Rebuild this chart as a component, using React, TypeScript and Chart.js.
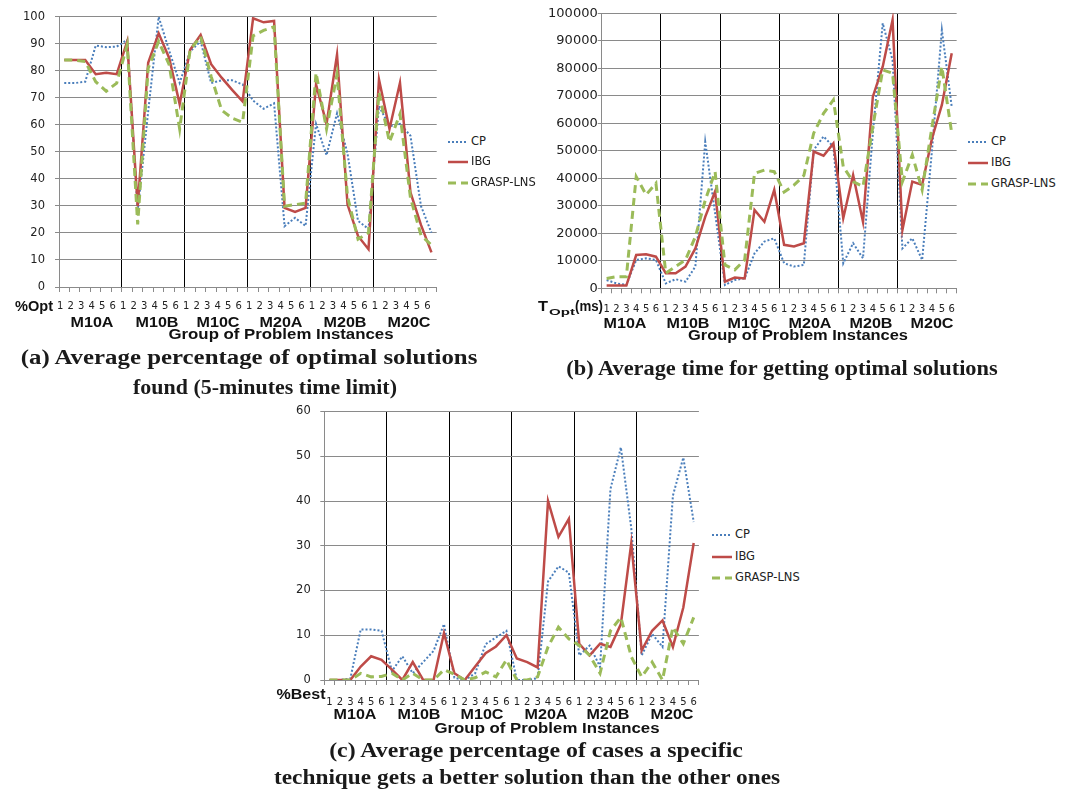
import React, { useEffect, useRef } from 'react';
import { Chart, registerables } from 'chart.js';

Chart.register(...registerables);

// ---------- data ----------
const groups = ['M10A', 'M10B', 'M10C', 'M20A', 'M20B', 'M20C'];
const instances = ['1', '2', '3', '4', '5', '6'];
const seriesNames = ['CP', 'IBG', 'GRASP-LNS'];

// (a) Average percentage of optimal solutions found (%)
const optCP = [75.5, 75.5, 76, 89.4, 88.8, 89, 91.5, 28, 65, 100, 87.5, 75.6, 87.2, 91, 75.5, 76.5, 76.5, 75, 69, 66, 68, 22.5, 25.6, 22.6, 60.4, 48.8, 64.3, 49.4, 24.5, 21.5, 67, 59.5, 60.4, 56, 30, 20.1];
const optIBG = [84, 84, 84, 78.8, 79.3, 78.8, 90.9, 29.9, 83, 93.9, 84.8, 67.7, 87.8, 93.3, 82.5, 77.5, 73, 68.7, 99.5, 98, 98.5, 29.3, 27.8, 29.3, 75, 60.4, 86, 30.5, 18.9, 14, 76.8, 58.5, 75.6, 35, 23, 12.8];
const optGRASP = [84, 84, 83.5, 76, 72.5, 75.5, 89.6, 23.2, 81, 90.9, 82.3, 58.5, 87.8, 92.7, 78, 65.5, 62.5, 61, 93, 95, 96.3, 29.9, 30.5, 31, 79.3, 58.5, 78.7, 33.5, 17.7, 20.1, 72, 53.7, 64, 33, 19.2, 15.5];

// (b) Average time for getting optimal solutions (ms)
const timeCP = [3000, 1800, 1200, 10300, 10900, 10300, 1800, 3300, 2400, 7900, 53300, 27300, 1200, 3000, 3600, 12700, 17000, 18200, 9100, 7900, 8500, 50300, 55200, 51500, 9100, 16400, 10900, 56400, 96400, 83000, 14500, 18200, 10300, 50300, 93900, 66000];
const timeIBG = [1000, 1000, 1000, 12100, 12400, 11500, 5500, 5500, 7900, 14500, 26000, 35200, 2400, 3900, 3600, 28500, 24200, 35800, 15800, 15200, 16400, 49700, 48200, 52700, 25500, 41200, 24200, 69700, 80600, 97600, 21200, 38800, 37600, 54500, 66700, 85500];
const timeGRASP = [3600, 4200, 4200, 40600, 34000, 38200, 5500, 7900, 10300, 18800, 32000, 42400, 8500, 6700, 10300, 41800, 43000, 42400, 35000, 37500, 41000, 56400, 63600, 68500, 44200, 38800, 37000, 58800, 79400, 78200, 38800, 48500, 35800, 58800, 80600, 56400];

// (c) Average percentage of cases a technique gets a better solution (%)
const bestCP = [0, 0, 0.3, 11.3, 11.3, 11, 2, 5.3, 1.5, 4, 6.5, 12.5, 0.5, 0, 1.5, 8, 9.5, 11, 0, 0, 0.4, 22, 25.4, 24, 5.5, 7.7, 2.9, 42.7, 52, 33.9, 5.5, 10.3, 7.4, 41.2, 49.7, 35.3];
const bestIBG = [0, 0, 0, 3, 5.3, 4.5, 2.3, 0, 4, 0, 0, 10.5, 1.5, 0, 3, 6, 7.5, 10, 4.8, 4, 2.8, 40, 32, 36, 8.1, 5.5, 8.1, 7.4, 12.5, 30.6, 6.6, 11, 13.3, 7.4, 16.2, 30.6];
const bestGRASP = [0, 0, 0, 1.5, 0.7, 0.8, 1.5, 0, 1.5, 0, 0, 2.3, 1.3, 0, 0.5, 1.8, 0.7, 4.5, 0, 0, 0.7, 7.4, 11.8, 9.2, 7.7, 5.5, 1.5, 11, 14, 5.2, 0.7, 4, 0, 11.8, 8.1, 14];

const categories = groups.flatMap((g) => instances.map((n) => `${g} ${n}`));

// ---------- styles ----------
const GRID = '#8a8a8a';
const CP_COLOR = '#4a7ebb';
const IBG_COLOR = '#be4b48';
const GRASP_COLOR = '#9bbb59';
const SANS = "'Liberation Sans', Arial, sans-serif";
const SERIF = "'Liberation Serif', 'Times New Roman', serif";
const DV = "'DejaVu Sans', sans-serif";

type Spec = {
  cp: number[]; ibg: number[]; grasp: number[];
  yMax: number; yStep: number;
  padTop: number; padRight: number; yWidth: number; xHeight: number;
  xPad: number; labelOffset: number; yPad: number; yFont: number;
};

function buildConfig(o: Spec): any {
  const n = categories.length;
  return {
    type: 'line',
    data: {
      labels: categories,
      datasets: [
        { label: seriesNames[0], data: o.cp, borderColor: CP_COLOR, borderWidth: 2, borderDash: [2, 2], pointRadius: 0, fill: false, tension: 0, order: 3 },
        { label: seriesNames[1], data: o.ibg, borderColor: IBG_COLOR, borderWidth: 2.5, pointRadius: 0, fill: false, tension: 0, order: 2 },
        { label: seriesNames[2], data: o.grasp, borderColor: GRASP_COLOR, borderWidth: 3, borderDash: [8, 5], pointRadius: 0, fill: false, tension: 0, order: 1 },
      ],
    },
    options: {
      responsive: false,
      animation: false,
      devicePixelRatio: 1,
      events: [],
      layout: { padding: { top: o.padTop, right: o.padRight, left: 0, bottom: 0 } },
      plugins: { legend: { display: false }, tooltip: { enabled: false }, title: { display: false } },
      scales: {
        x: {
          type: 'category',
          offset: true,
          grid: {
            offset: true,
            color: (c: any) => (c.index === n ? GRID : c.index > 0 && c.index % 6 === 0 ? '#000' : 'rgba(0,0,0,0)'),
            lineWidth: 1,
            drawTicks: true,
            tickLength: 5,
            tickColor: GRID,
          },
          border: { display: true, color: GRID, width: 1 },
          ticks: {
            autoSkip: false,
            maxRotation: 0,
            minRotation: 0,
            padding: o.xPad,
            labelOffset: o.labelOffset,
            font: { family: DV, size: 10 },
            color: '#222',
            callback: (_v: any, i: number) => instances[i % instances.length],
          },
          afterFit: (s: any) => { s.height = o.xHeight; },
        },
        y: {
          min: 0,
          max: o.yMax,
          ticks: {
            stepSize: o.yStep,
            padding: o.yPad,
            font: { family: DV, size: o.yFont },
            color: '#222',
            callback: (v: any) => String(v),
          },
          grid: { color: GRID, lineWidth: 1, drawTicks: true, tickLength: 4, tickColor: GRID },
          border: { display: true, color: GRID, width: 1 },
          afterFit: (s: any) => { s.width = o.yWidth; },
        },
      },
    },
  };
}

function LineChart({ left, top, width, height, spec }: { left: number; top: number; width: number; height: number; spec: Spec }) {
  const ref = useRef<HTMLCanvasElement | null>(null);
  useEffect(() => {
    if (!ref.current) return;
    const chart = new Chart(ref.current, buildConfig(spec));
    return () => chart.destroy();
  }, []);
  return <canvas ref={ref} width={width} height={height} style={{ position: 'absolute', left, top, width, height }} />;
}

// ---------- text helpers ----------
let measureCtx: CanvasRenderingContext2D | null = null;
function measure(text: string, font: string): number {
  if (!measureCtx) measureCtx = document.createElement('canvas').getContext('2d');
  if (!measureCtx) return 0;
  measureCtx.font = font;
  return measureCtx.measureText(text).width;
}

function Txt({ text, x, y, w, size, bold = true, family = SANS, color = '#111' }: { text: string; x: number; y: number; w?: number; size: number; bold?: boolean; family?: string; color?: string }) {
  let sx = 1;
  if (w) {
    const m = measure(text, `${bold ? 'bold ' : ''}${size}px ${family}`);
    if (m > 0) sx = w / m;
  }
  return (
    <div
      style={{
        position: 'absolute', left: x, top: y, fontFamily: family, fontSize: size,
        fontWeight: bold ? 'bold' : 'normal', lineHeight: 1, whiteSpace: 'nowrap', color,
        transform: `translate(-50%, -50%) scaleX(${sx})`,
      }}
    >
      {text}
    </div>
  );
}

function Legend({ x, ys }: { x: number; ys: number[] }) {
  const styles = [
    { color: CP_COLOR, width: 2, dash: '2 2' },
    { color: IBG_COLOR, width: 2.5, dash: undefined },
    { color: GRASP_COLOR, width: 3, dash: '8 5' },
  ];
  return (
    <>
      {seriesNames.map((name, i) => (
        <div key={name} style={{ position: 'absolute', left: x, top: ys[i] - 8, height: 16, display: 'flex', alignItems: 'center' }}>
          <svg width={20} height={16} style={{ display: 'block' }}>
            <line x1={0} y1={8} x2={20} y2={8} stroke={styles[i].color} strokeWidth={styles[i].width} strokeDasharray={styles[i].dash} />
          </svg>
          <span style={{ fontFamily: DV, fontSize: 11.5, marginLeft: 3, color: '#222', lineHeight: 1 }}>{name}</span>
        </div>
      ))}
    </>
  );
}

const specA: Spec = { cp: optCP, ibg: optIBG, grasp: optGRASP, yMax: 100, yStep: 10, padTop: 13.5, padRight: 8.3, yWidth: 59, xHeight: 31, xPad: 8, labelOffset: -4, yPad: 10, yFont: 11.5 };
const specB: Spec = { cp: timeCP, ibg: timeIBG, grasp: timeGRASP, yMax: 100000, yStep: 10000, padTop: 13.3, padRight: 6.7, yWidth: 81.7, xHeight: 29.7, xPad: 10, labelOffset: 0, yPad: 0, yFont: 13 };
const specC: Spec = { cp: bestCP, ibg: bestIBG, grasp: bestGRASP, yMax: 60, yStep: 10, padTop: 13.3, padRight: 7.3, yWidth: 84.3, xHeight: 30, xPad: 11, labelOffset: 0, yPad: 9.6, yFont: 11.5 };

const groupXA = [92, 157, 218, 281, 345, 409];
const groupXB = [625, 687.5, 748.5, 810, 871, 931.5];
const groupXC = [355, 419.3, 482.3, 545.5, 608.3, 672];

const CAP = 20.5;

export default function App() {
  return (
    <div style={{ position: 'absolute', left: 0, top: 0, width: 1066, height: 793, background: '#fff', overflow: 'hidden' }}>
      <LineChart left={0} top={0} width={445} height={318} spec={specA} />
      <LineChart left={520} top={0} width={445} height={318} spec={specB} />
      <LineChart left={240} top={395} width={468} height={315} spec={specC} />

      {/* chart (a) texts */}
      <Txt text="%Opt" x={34} y={306} w={38} size={14} />
      {groups.map((g, i) => <Txt key={'a' + g} text={g} x={groupXA[i]} y={322} w={43} size={14} />)}
      <Txt text="Group of Problem Instances" x={281} y={334} w={225} size={14.5} />
      <Txt text="(a) Average percentage of optimal solutions" x={249} y={357} w={458} size={CAP} family={SERIF} color="#1a1a1a" />
      <Txt text="found (5-minutes time limit)" x={265} y={386.5} w={264} size={CAP} family={SERIF} color="#1a1a1a" />
      <Legend x={448} ys={[142, 162, 183]} />

      {/* chart (b) texts */}
      <Txt text="T" x={543} y={305.5} w={10} size={14} />
      <Txt text="Opt" x={561.5} y={311.5} w={26} size={9} />
      <Txt text="(ms)" x={588.5} y={305.5} w={28} size={14.5} />
      {groups.map((g, i) => <Txt key={'b' + g} text={g} x={groupXB[i]} y={322.5} w={43} size={14} />)}
      <Txt text="Group of Problem Instances" x={798} y={335} w={220} size={14.5} />
      <Txt text="(b) Average time for getting optimal solutions" x={781.5} y={368} w={433} size={CAP} family={SERIF} color="#1a1a1a" />
      <Legend x={968} ys={[142, 163, 184]} />

      {/* chart (c) texts */}
      <Txt text="%Best" x={300.5} y={694} w={49} size={14} />
      {groups.map((g, i) => <Txt key={'c' + g} text={g} x={groupXC[i]} y={714} w={43} size={14} />)}
      <Txt text="Group of Problem Instances" x={546.5} y={728} w={225} size={14.5} />
      <Txt text="(c) Average percentage of cases a specific" x={535.5} y={749.5} w={415} size={CAP} family={SERIF} color="#1a1a1a" />
      <Txt text="technique gets a better solution than the other ones" x={526.5} y={777} w={507} size={CAP} family={SERIF} color="#1a1a1a" />
      <Legend x={712} ys={[535, 557, 578]} />
    </div>
  );
}
